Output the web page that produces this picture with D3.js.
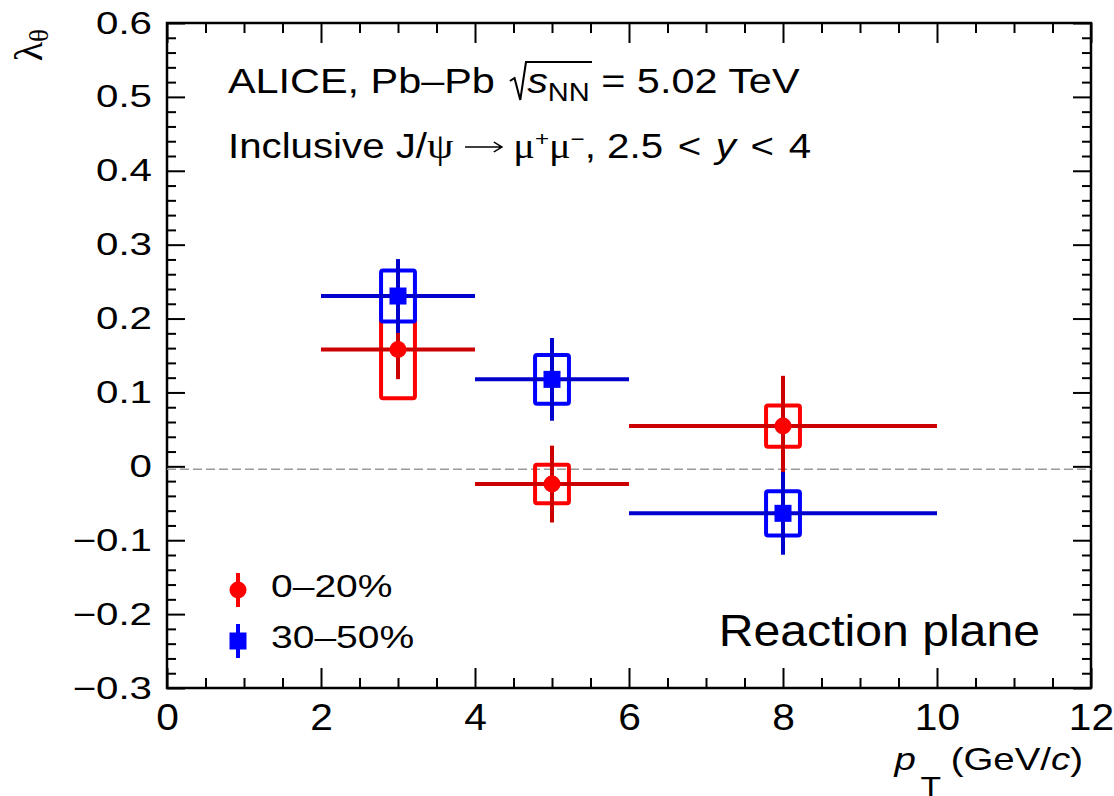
<!DOCTYPE html>
<html>
<head>
<meta charset="utf-8">
<script src="https://cdn.jsdelivr.net/npm/d3@7"></script>
<style>
  body { margin: 0; background: #fff; }
  text { font-family: "Liberation Sans", Arial, sans-serif; fill: #000; white-space: pre; }
</style>
</head>
<body>
<svg id="chart"></svg>
<script>
'use strict';

var SVG_SIZE = {width: 1114, height: 796};
var PLOT = {left: 167, right: 1091, top: 23, bottom: 688};
var SERIF = '"Liberation Serif","DejaVu Serif",serif';

// pT bins (GeV/c)
var ptCenter = [3, 5, 8];
var ptLow = [2, 4, 6];
var ptHigh = [4, 6, 10];

// lambda_theta, 0-20% centrality
var central0020 = [0.158, -0.024, 0.0545];
var stat0020 = [0.040, 0.052, 0.068];
var syst0020 = [0.066, 0.026, 0.028];

// lambda_theta, 30-50% centrality
var central3050 = [0.2305, 0.1177, -0.0636];
var stat3050 = [0.050, 0.056, 0.056];
var syst3050 = [0.0345, 0.033, 0.030];

var xTicks = [0, 2, 4, 6, 8, 10, 12];
var yTicks = [-0.3, -0.2, -0.1, 0, 0.1, 0.2, 0.3, 0.4, 0.5, 0.6];
var refLine = -0.004;
var boxHalfWidth = 0.22;

var series = [
  {label: '0–20%', central: central0020, stat: stat0020, syst: syst0020,
   marker: 'circle', color: '#ff0000', barColor: '#cc0000', boxFill: 'none'},
  {label: '30–50%', central: central3050, stat: stat3050, syst: syst3050,
   marker: 'square', color: '#0000ff', barColor: '#0000cc', boxFill: '#ffffff'}
];

var svg = d3.select('#chart')
  .attr('width', SVG_SIZE.width).attr('height', SVG_SIZE.height);

var x = d3.scaleLinear().domain([0, 12]).range([PLOT.left, PLOT.right]);
var y = d3.scaleLinear().domain([-0.3, 0.6]).range([PLOT.bottom, PLOT.top]);

// minor tick positions
var xMinor = d3.range(0, 12.01, 0.5).filter(function(v){ return Math.abs(v % 2) > 1e-6; });
var yMinor = d3.range(-0.3, 0.601, 0.02).filter(function(v){
  return Math.abs(Math.round(v * 10) - v * 10) > 1e-6;
});

function tickStyle(g) {
  g.select('.domain').remove();
  g.selectAll('line').attr('stroke', '#000').attr('stroke-width', 2);
}

// bottom axis
var xLabelSx = 1.1;
svg.append('g')
  .attr('transform', 'translate(0,' + PLOT.bottom + ')')
  .call(d3.axisBottom(x).tickValues(xTicks).tickSize(-20).tickFormat(d3.format('d')))
  .call(tickStyle)
  .call(function(g){
    g.selectAll('text')
      .attr('y', 42).attr('dy', 0)
      .attr('transform', 'scale(' + xLabelSx + ',1)')
      .style('font-size', '37px')
      .style('font-family', '"Liberation Sans", Arial, sans-serif')
      .attr('fill', '#000');
  });
svg.append('g')
  .attr('transform', 'translate(0,' + PLOT.bottom + ')')
  .call(d3.axisBottom(x).tickValues(xMinor).tickSize(-10).tickFormat(''))
  .call(tickStyle);

// top axis (ticks only)
svg.append('g')
  .attr('transform', 'translate(0,' + PLOT.top + ')')
  .call(d3.axisTop(x).tickValues(xTicks).tickSize(-20).tickFormat(''))
  .call(tickStyle);
svg.append('g')
  .attr('transform', 'translate(0,' + PLOT.top + ')')
  .call(d3.axisTop(x).tickValues(xMinor).tickSize(-10).tickFormat(''))
  .call(tickStyle);

// left axis
var yLabelSx = 1.3;
var yFormat = function(d){ return d === 0 ? '0' : d3.format('.1f')(d); };
svg.append('g')
  .attr('transform', 'translate(' + PLOT.left + ',0)')
  .call(d3.axisLeft(y).tickValues(yTicks).tickSize(-18).tickFormat(yFormat))
  .call(tickStyle)
  .call(function(g){
    g.selectAll('text')
      .attr('x', -15 / yLabelSx).attr('y', 10).attr('dy', 0)
      .attr('transform', 'scale(' + yLabelSx + ',1)')
      .style('font-size', '31px')
      .style('font-family', '"Liberation Sans", Arial, sans-serif')
      .attr('fill', '#000');
  });
svg.append('g')
  .attr('transform', 'translate(' + PLOT.left + ',0)')
  .call(d3.axisLeft(y).tickValues(yMinor).tickSize(-9).tickFormat(''))
  .call(tickStyle);

// right axis (ticks only)
svg.append('g')
  .attr('transform', 'translate(' + PLOT.right + ',0)')
  .call(d3.axisRight(y).tickValues(yTicks).tickSize(-18).tickFormat(''))
  .call(tickStyle);
svg.append('g')
  .attr('transform', 'translate(' + PLOT.right + ',0)')
  .call(d3.axisRight(y).tickValues(yMinor).tickSize(-9).tickFormat(''))
  .call(tickStyle);

// frame
svg.append('rect')
  .attr('x', PLOT.left).attr('y', PLOT.top)
  .attr('width', PLOT.right - PLOT.left).attr('height', PLOT.bottom - PLOT.top)
  .attr('fill', 'none').attr('stroke', '#000').attr('stroke-width', 2.5);

// dashed reference line
svg.append('line')
  .attr('x1', x(0)).attr('x2', x(12))
  .attr('y1', y(refLine)).attr('y2', y(refLine))
  .attr('stroke', '#9a9a9a').attr('stroke-width', 1.6)
  .attr('stroke-dasharray', '9,4');

function drawMarker(g, type, cx, cy, color) {
  if (type === 'circle') {
    g.append('circle').attr('cx', cx).attr('cy', cy).attr('r', 8.5).attr('fill', color);
  } else {
    g.append('rect').attr('x', cx - 8.5).attr('y', cy - 8.5)
      .attr('width', 17).attr('height', 17).attr('fill', color);
  }
}

// data points
series.forEach(function(s){
  var g = svg.append('g');
  ptCenter.forEach(function(pt, i){
    var v = s.central[i];
    g.append('rect')
      .attr('x', x(pt - boxHalfWidth))
      .attr('width', x(pt + boxHalfWidth) - x(pt - boxHalfWidth))
      .attr('y', y(v + s.syst[i]))
      .attr('height', y(v - s.syst[i]) - y(v + s.syst[i]))
      .attr('rx', 2)
      .attr('fill', s.boxFill)
      .attr('stroke', s.color).attr('stroke-width', 4)
      .attr('stroke-linejoin', 'round');
    g.append('line')
      .attr('x1', x(ptLow[i])).attr('x2', x(ptHigh[i]))
      .attr('y1', y(v)).attr('y2', y(v))
      .attr('stroke', s.barColor).attr('stroke-width', 4);
    g.append('line')
      .attr('x1', x(pt)).attr('x2', x(pt))
      .attr('y1', y(v - s.stat[i])).attr('y2', y(v + s.stat[i]))
      .attr('stroke', s.barColor).attr('stroke-width', 4);
    drawMarker(g, s.marker, x(pt), y(v), s.color);
  });
});

// text made of several runs, horizontally stretched by sx
function richText(parent, px, py, sx, runs, anchor) {
  var g = parent.append('g');
  var cx = 0;
  var marks = {};
  runs.forEach(function(r){
    if (r.mark) marks[r.mark] = cx;
    if (r.gap) cx += r.gap;
    if (r.t) {
      var t = g.append('text').attr('x', cx).attr('y', r.dy || 0)
        .style('font-size', r.size + 'px').text(r.t);
      if (r.italic) t.style('font-style', 'italic');
      if (r.serif) t.style('font-family', SERIF);
      cx += t.node().getComputedTextLength();
    }
  });
  var x0 = anchor === 'end' ? px - cx * sx : px;
  g.attr('transform', 'translate(' + x0 + ',' + py + ') scale(' + sx + ',1)');
  return {g: g, marks: marks, width: cx};
}

var S1 = 36, S = 35, HSX = 1.15;
var line1 = richText(svg, 228, 93, HSX, [
  {t: 'ALICE, Pb–Pb', size: S1},
  {gap: 13},
  {mark: 'rad', gap: 15},
  {t: 's', size: S1, italic: true},
  {t: 'NN', size: S1 * 0.7, dy: 8},
  {mark: 'radEnd'},
  {t: ' = 5.02 TeV', size: S1}
]);
var r0 = line1.marks.rad, r1 = line1.marks.radEnd;
line1.g.append('path')
  .attr('d', 'M' + r0 + ',-12 L' + (r0 + 4) + ',-15 L' + (r0 + 9) + ',7 L' + (r0 + 14) + ',-31 L' + (r1 + 2) + ',-31')
  .attr('fill', 'none').attr('stroke', '#000').attr('stroke-width', 1.8);

var line2 = richText(svg, 228, 158, HSX, [
  {t: 'Inclusive J/', size: S},
  {t: 'ψ', size: S * 1.05, serif: true},
  {mark: 'arrow', gap: 52},
  {t: 'μ', size: S, serif: true},
  {t: '+', size: S * 0.6, dy: -12},
  {t: 'μ', size: S, serif: true},
  {t: '−', size: S * 0.6, dy: -12},
  {t: ', 2.5 ', size: S},
  {gap: 3}, {t: '<', size: S}, {gap: 3},
  {t: ' ', size: S},
  {t: 'y', size: S, italic: true},
  {t: ' ', size: S},
  {gap: 3}, {t: '<', size: S}, {gap: 3},
  {t: ' 4', size: S}
]);
var a0 = line2.marks.arrow + 10, a1 = line2.marks.arrow + 42;
line2.g.append('path')
  .attr('d', 'M' + a0 + ',-11 L' + a1 + ',-11 M' + (a1 - 7) + ',-16 L' + a1 + ',-11 L' + (a1 - 7) + ',-6')
  .attr('fill', 'none').attr('stroke', '#000').attr('stroke-width', 1.5);

richText(svg, 1040, 646, 1.07, [{t: 'Reaction plane', size: 45}], 'end');

// x axis title
richText(svg, 1083, 770, 1.2, [
  {t: 'p', size: 32, italic: true},
  {gap: 4},
  {t: 'T', size: 28, dy: 26},
  {gap: 8},
  {t: '(GeV/', size: 32},
  {t: 'c', size: 32, italic: true},
  {t: ')', size: 32}
], 'end');

// y axis title
var yt = svg.append('text')
  .attr('transform', 'translate(42,29) rotate(-90)')
  .attr('text-anchor', 'end')
  .style('font-family', SERIF);
yt.append('tspan').style('font-size', '40px').text('λ');
yt.append('tspan').attr('dy', 6).style('font-size', '27px').text('θ');

// legend
var legend = svg.append('g');
series.forEach(function(s, i){
  var ly = 590 + i * 51;
  legend.append('line')
    .attr('x1', 238).attr('x2', 238).attr('y1', ly - 17).attr('y2', ly + 17)
    .attr('stroke', s.color).attr('stroke-width', 4);
  drawMarker(legend, s.marker, 238, ly, s.color);
  richText(legend, 271, ly + 7, 1.22, [{t: s.label, size: 32}]);
});
</script>
</body>
</html>
